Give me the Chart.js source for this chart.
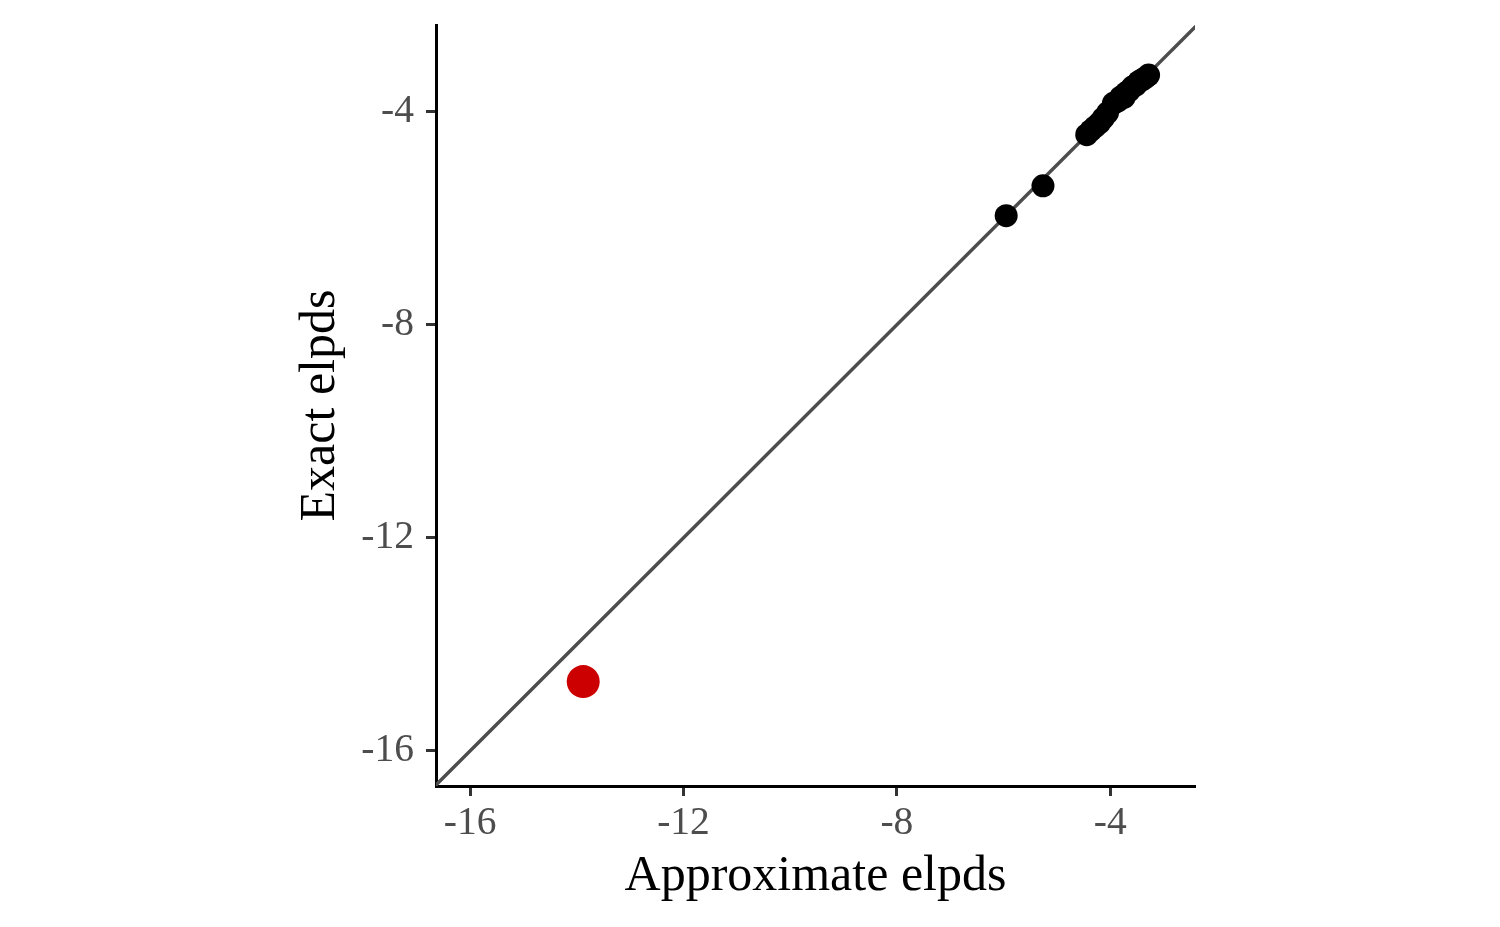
<!DOCTYPE html>
<html>
<head>
<meta charset="utf-8">
<script src="https://cdn.jsdelivr.net/npm/chart.js@4/dist/chart.umd.min.js"></script>
<style>
  html, body { margin: 0; padding: 0; background: #ffffff; }
  #chart { display: block; }
</style>
</head>
<body>
<canvas id="chart" width="1500" height="927"></canvas>
<script>
// values
const approxElpds = [-5.95, -5.26, -4.44, -4.36, -4.28, -4.20, -4.13, -4.05, -3.94, -3.86, -3.80, -3.74, -3.70, -3.64, -3.58, -3.52, -3.46, -3.40, -3.34, -3.28];
const exactElpds  = [-5.95, -5.39, -4.43, -4.35, -4.28, -4.21, -4.12, -4.02, -3.84, -3.80, -3.72, -3.73, -3.64, -3.60, -3.53, -3.50, -3.43, -3.40, -3.36, -3.31];
const flaggedApprox = [-13.88];
const flaggedExact  = [-14.70];
const xTicks = [-16, -12, -8, -4];
const yTicks = [-16, -12, -8, -4];
const xRange = [-16.64, -2.41];
const yRange = [-16.66, -2.37];
const refLine = [-17, -2];

const serif = '"Liberation Serif", "Times New Roman", serif';

const toPoints = (xs, ys) => xs.map((x, i) => ({ x: x, y: ys[i] }));

const axisCommon = (ticks) => ({
    type: 'linear',
    border: { display: true, color: '#000000', width: 3 },
    grid: {
        drawOnChartArea: false,
        drawTicks: true,
        tickLength: 10,
        tickColor: '#333333',
        tickWidth: 3
    },
    ticks: {
        color: '#4d4d4d',
        font: { family: serif, size: 39.5 },
        callback: (v) => String(v)
    },
    afterBuildTicks: (scale) => {
        scale.ticks = ticks.map(v => ({ value: v }));
    }
});

const xScale = axisCommon(xTicks);
xScale.min = xRange[0];
xScale.max = xRange[1];
xScale.ticks.padding = 4;
xScale.ticks.maxRotation = 0;
xScale.title = {
    display: true,
    text: 'Approximate elpds',
    color: '#000000',
    font: { family: serif, size: 50, lineHeight: 1 },
    padding: { top: 0, bottom: 3.5 }
};
xScale.afterFit = (scale) => {
    scale.height = 119;
    scale.paddingLeft = 0;
    scale.paddingRight = 0;
};

const yScale = axisCommon(yTicks);
yScale.min = yRange[0];
yScale.max = yRange[1];
yScale.ticks.padding = 12;
yScale.title = {
    display: true,
    text: 'Exact elpds',
    color: '#000000',
    font: { family: serif, size: 50, lineHeight: 1 },
    padding: { top: 10, bottom: 0 }
};
yScale.afterFit = (scale) => {
    scale.width = 150;
    scale.paddingTop = 0;
    scale.paddingBottom = 0;
};

new Chart(document.getElementById('chart'), {
    type: 'scatter',
    data: {
        datasets: [
            {
                type: 'line',
                data: toPoints(refLine, refLine),
                borderColor: '#4d4d4d',
                borderWidth: 3.5,
                pointRadius: 0,
                order: 3
            },
            {
                data: toPoints(approxElpds, exactElpds),
                backgroundColor: '#000000',
                borderWidth: 0,
                pointRadius: 11.5,
                order: 2
            },
            {
                data: toPoints(flaggedApprox, flaggedExact),
                backgroundColor: '#cc0000',
                borderWidth: 0,
                pointRadius: 16.5,
                order: 1
            }
        ]
    },
    options: {
        responsive: false,
        animation: false,
        layout: { padding: { left: 286, right: 305, top: 25, bottom: 22 } },
        plugins: {
            legend: { display: false },
            tooltip: { enabled: false }
        },
        scales: { x: xScale, y: yScale }
    }
});
</script>
</body>
</html>
